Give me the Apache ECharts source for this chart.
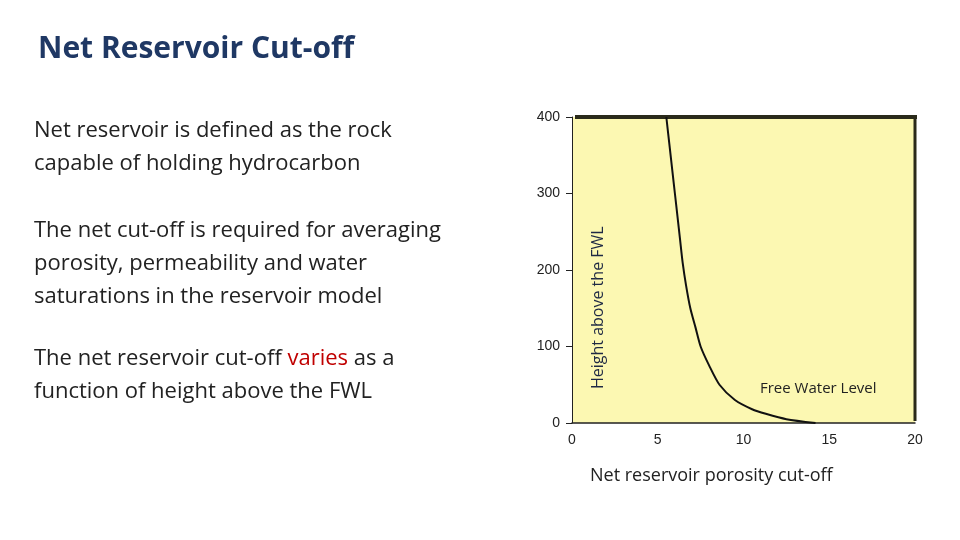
<!DOCTYPE html>
<html><head><meta charset="utf-8">
<script src="https://cdn.jsdelivr.net/npm/echarts@6/dist/echarts.min.js"></script>
<style>html,body{margin:0;padding:0;background:#fff}#c{width:960px;height:540px}</style>
</head><body><div id="c"></div>
<script>
const porosity = [5.5, 5.7, 5.85, 6.0, 6.15, 6.3, 6.45, 6.65, 6.9, 7.2, 7.5, 8.0, 8.6, 9.5, 10.5, 11.3, 12.5, 14.2];
const height   = [400, 360, 330, 300, 270, 240, 210, 180, 150, 125, 100, 75, 50, 30, 18, 12, 5, 0];
const xTicks = [0, 5, 10, 15, 20];
const yTicks = [0, 100, 200, 300, 400];

const chart = echarts.init(document.getElementById('c'));
const F = '"Open Sans", sans-serif';
chart.setOption({
  animation: false,
  grid: { left: 572, right: 45, top: 117, bottom: 117, show: true, backgroundColor: '#fcf8b2', borderWidth: 0 },
  xAxis: { type: 'value', min: 0, max: 20, interval: 5,
    axisLine: { show: true, onZero: false, lineStyle: { color: '#222', width: 1.5 } },
    axisTick: { show: false }, splitLine: { show: false },
    axisLabel: { color: '#222', fontSize: 14, fontFamily: 'Arial', margin: 10 } },
  yAxis: { type: 'value', min: 0, max: 400, interval: 100,
    axisLine: { show: true, lineStyle: { color: '#222', width: 1 } },
    axisTick: { show: true, length: 6, lineStyle: { color: '#222' } }, splitLine: { show: false },
    axisLabel: { color: '#222', fontSize: 14, fontFamily: 'Arial', margin: 12 } },
  series: [{ type: 'line', data: porosity.map((p, i) => [p, height[i]]), showSymbol: false, smooth: 0.25,
    lineStyle: { color: '#111', width: 2 } }],
  graphic: [
    { type: 'line', shape: { x1: 575, y1: 117, x2: 917, y2: 117 }, style: { stroke: '#2a2a1a', lineWidth: 4 } },
    { type: 'line', shape: { x1: 915, y1: 117, x2: 915, y2: 421 }, style: { stroke: '#2a2a1a', lineWidth: 3 } },
    { type: 'text', left: 38, top: 34, style: { text: 'Net Reservoir Cut-off', font: 'bold 30px ' + F, fill: '#1f3864' } },
    { type: 'text', left: 34, top: 114, style: { text: 'Net reservoir is defined as the rock\ncapable of holding hydrocarbon', font: '22px ' + F, fill: '#222', lineHeight: 33 } },
    { type: 'text', left: 34, top: 214, style: { text: 'The net cut-off is required for averaging\nporosity, permeability and water\nsaturations in the reservoir model', font: '22px ' + F, fill: '#222', lineHeight: 33 } },
    { type: 'text', left: 34, top: 348, style: { rich: { a: { font: '22px ' + F, fill: '#222' }, r: { font: '22px ' + F, fill: '#c00000' } },
      text: '{a|The net reservoir cut-off }{r|varies}{a| as a}', font: '22px ' + F } },
    { type: 'text', left: 34, top: 381, style: { text: 'function of height above the FWL', font: '22px ' + F, fill: '#222' } },
    { type: 'text', x: 606, y: 389, rotation: Math.PI / 2, style: { text: 'Height above the FWL', font: '16px ' + F, fill: '#1f2a44', textAlign: 'left', textVerticalAlign: 'bottom' } },
    { type: 'text', left: 760, top: 381, style: { text: 'Free Water Level', font: '15px ' + F, fill: '#222' } },
    { type: 'text', left: 590, top: 467, style: { text: 'Net reservoir porosity cut-off', font: '18px ' + F, fill: '#222' } }
  ]
});
</script></body></html>
